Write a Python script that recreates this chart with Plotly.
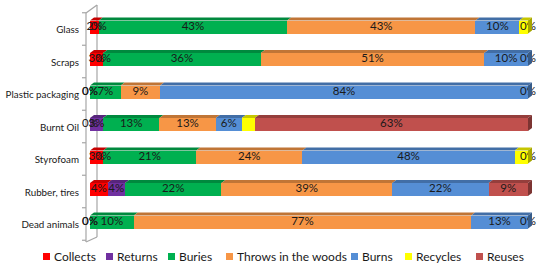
import plotly.graph_objects as go

# ---------------- data ----------------
categories = ["Glass", "Scraps", "Plastic packaging", "Burnt Oil",
              "Styrofoam", "Rubber, tires", "Dead animals"]
series_names = ["Collects", "Returns", "Buries", "Throws in the woods",
                "Burns", "Recycles", "Reuses"]
collects = [2, 3, 0, 0, 3, 4, 0]
returns_ = [0, 0, 0, 3, 0, 4, 0]
buries = [43, 36, 7, 13, 21, 22, 10]
throws = [43, 51, 9, 13, 24, 39, 77]
burns = [10, 10, 84, 6, 48, 22, 13]
recycles = [2, 0, 0, 3, 3, 0, 0]
reuses = [0, 0, 0, 63, 0, 9, 0]
series_values = [collects, returns_, buries, throws, burns, recycles, reuses]
colors = ["#FF0000", "#7030A0", "#00B050", "#F79646", "#558ED5", "#FFFF00", "#C0504D"]
show_labels = [True, True, True, True, True, False, True]

# ---------------- geometry (pixels) ----------------
W, H = 548, 266
L, R, T, B = 80, 8, 4, 22
PW, PH = W - L - R, H - T - B
X0PX, X100PX = 90, 528          # pixel of 0% and 100%
ROW0PX, ROWSTEP = 27, 32.5       # pixel of first row centre, row spacing
ux = (X100PX - X0PX) / 100.0
xr = [-(X0PX - L) / ux, 100 + (W - R - X100PX) / ux]
yr = [(T + PH - ROW0PX) / ROWSTEP, -(ROW0PX - T) / ROWSTEP]  # reversed
BW = 13 / ROWSTEP                # bar front thickness
DX, DY = 4 / ux, 3 / ROWSTEP     # 3D depth offset


def px2x(p):
    return (p - X0PX) / ux


def px2y(p):
    return (p - ROW0PX) / ROWSTEP


def darker(hexc, f=0.78):
    r, g, b = int(hexc[1:3], 16), int(hexc[3:5], 16), int(hexc[5:7], 16)
    return "rgb(%d,%d,%d)" % (r * f, g * f, b * f)


rows = list(range(len(categories)))
totals = [sum(s[i] for s in series_values) for i in rows]
norm = [[s[i] * 100.0 / totals[i] for i in rows] for s in series_values]

fig = go.Figure()
shapes = []
wall = dict(color="#A6A6A6", width=1.2)

# back wall line (behind bars)
shapes.append(dict(type="line", xref="x", yref="y", x0=px2x(97), x1=px2x(97),
                   y0=px2y(5), y1=px2y(237), line=wall, layer="below"))
# front wall line + connectors
shapes.append(dict(type="line", xref="x", yref="y", x0=px2x(86), x1=px2x(86),
                   y0=px2y(13), y1=px2y(242), line=wall, layer="below"))
shapes.append(dict(type="line", xref="x", yref="y", x0=px2x(86), x1=px2x(97),
                   y0=px2y(13), y1=px2y(5), line=wall, layer="below"))
shapes.append(dict(type="line", xref="x", yref="y", x0=px2x(86), x1=px2x(97),
                   y0=px2y(242), y1=px2y(237), line=wall, layer="below"))
for k in range(len(categories) + 1):
    yb = k - 0.5 + 2 / ROWSTEP
    shapes.append(dict(type="line", xref="x", yref="y", x0=px2x(82), x1=px2x(86),
                       y0=yb, y1=yb, line=wall, layer="below"))

# bars
for name, vals, col in zip(series_names, norm, colors):
    fig.add_trace(go.Bar(y=rows, x=vals, name=name, orientation="h", width=BW,
                         marker=dict(color=col, line=dict(width=0)),
                         hoverinfo="skip", showlegend=False))

# 3D top faces and end faces
for i in rows:
    start = 0.0
    last_col = None
    ytop = i - BW / 2
    ybot = i + BW / 2
    for vals, col in zip(norm, colors):
        v = vals[i]
        if v > 0:
            a, b = start, start + v
            path = "M %f,%f L %f,%f L %f,%f L %f,%f Z" % (
                a, ytop, b, ytop, b + DX, ytop - DY, a + DX, ytop - DY)
            shapes.append(dict(type="path", xref="x", yref="y", path=path,
                               fillcolor=darker(col), line=dict(width=0), layer="above"))
            last_col = col
        start += v
    path = "M %f,%f L %f,%f L %f,%f L %f,%f Z" % (
        start, ytop, start + DX, ytop - DY, start + DX, ybot - DY, start, ybot)
    shapes.append(dict(type="path", xref="x", yref="y", path=path,
                       fillcolor=darker(last_col, 0.65), line=dict(width=0), layer="above"))

# data labels
for idx, (name, vals, raw, show) in enumerate(zip(series_names, norm, series_values, show_labels)):
    if not show:
        continue
    xs = []
    for i in rows:
        st = sum(norm[j][i] for j in range(idx))
        xs.append(st + vals[i] / 2)
    fig.add_trace(go.Scatter(x=xs, y=rows, mode="text",
                             text=["%d%%" % r for r in raw],
                             textfont=dict(family="Lato", size=11.5, color="#1a1a1a"),
                             cliponaxis=False, hoverinfo="skip", showlegend=False))

# legend (manual, Excel-like compact)
leg_x = [43, 106, 168, 226, 351, 405, 476]
annotations = []
for name, col, lx in zip(series_names, colors, leg_x):
    shapes.append(dict(type="rect", xref="paper", yref="paper",
                       x0=(lx - L) / PW, x1=(lx + 7 - L) / PW,
                       y0=(T + PH - 260) / PH, y1=(T + PH - 253) / PH,
                       fillcolor=col, line=dict(width=0)))
    annotations.append(dict(xref="paper", yref="paper", x=(lx + 9 - L) / PW,
                            y=(T + PH - 256.5) / PH, xanchor="left", yanchor="middle",
                            text=name, showarrow=False,
                            font=dict(family="Lato", size=12, color="#1a1a1a")))

fig.update_layout(
    width=W, height=H, margin=dict(l=L, r=R, t=T, b=B),
    paper_bgcolor="white", plot_bgcolor="white",
    barmode="stack", bargap=0, showlegend=False,
    xaxis=dict(range=xr, visible=False, fixedrange=True),
    yaxis=dict(range=yr, tickmode="array", tickvals=[r + 3 / ROWSTEP for r in rows],
               ticktext=categories, showgrid=False, zeroline=False, showline=False,
               ticks="", ticklen=0, ticklabelstandoff=0,
               tickfont=dict(family="Lato", size=9.8, color="#1a1a1a")),
    shapes=shapes, annotations=annotations,
)
fig.write_html("out.html")
